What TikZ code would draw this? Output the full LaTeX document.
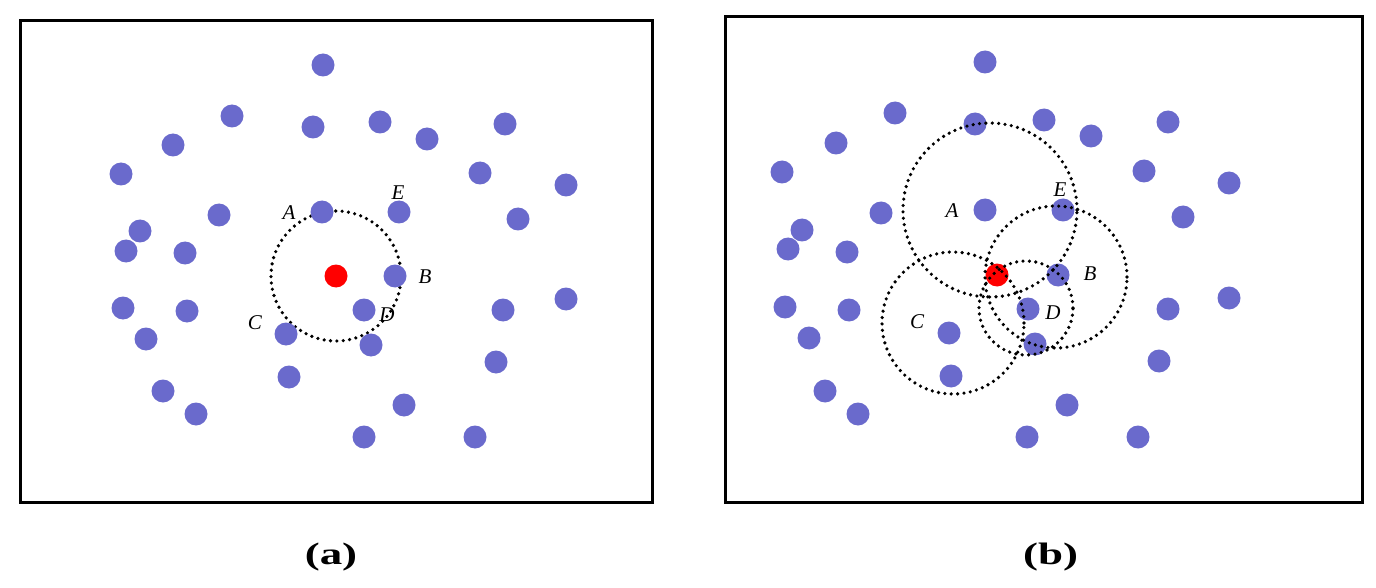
\documentclass[tikz,border=0pt]{standalone}
\usepackage{fontspec}
\setmainfont{Liberation Serif}
\definecolor{dotblue}{RGB}{106,106,204}
\begin{document}
\begin{tikzpicture}[x=1pt,y=-1pt,
  bluedot/.style={circle, fill=dotblue, inner sep=0pt, minimum size=23pt},
  reddot/.style={circle, fill=red, inner sep=0pt, minimum size=23pt},
  rangering/.style={draw=black, line width=3.6pt, dash pattern=on 0pt off 6.4pt, line cap=round},
  framebox/.style={draw=black, line width=3pt},
  lbl/.style={inner sep=0pt, font=\fontsize{21}{25}\selectfont\itshape},
  captext/.style={inner sep=0pt, font=\fontsize{31}{36}\selectfont\bfseries, xscale=1.45}]
\useasboundingbox (0,0) rectangle (1376,588);
% ---------- panel (a) ----------
\draw[framebox] (20,20.5) rectangle (652,502);
\node[reddot] (ra) at (336,276) {};
\draw[rangering] (ra) circle[radius=65pt];
\foreach \px/\py [count=\i] in {323/65,232/116,173/145,121/174,313/127,380/122,427/139,505/124,480/173,566/185,219/215,140/231,126/251,185/253,322/212,399/212,518/219,395/276,123/308,187/311,146/339,364/310,286/334,371/345,503/310,566/299,496/362,289/377,163/391,196/414,404/405,364/437,475/437}
  \node[bluedot] (a\i) at (\px,\py) {};
\node[lbl] (laA) at (289,213) {A};
\node[lbl] (laE) at (398,193) {E};
\node[lbl] (laB) at (425,277) {B};
\node[lbl] (laC) at (255,323) {C};
\node[lbl] (laD) at (387,315) {D};
\node[captext] (capa) at (331,557) {(a)};
% ---------- panel (b) ----------
\draw[framebox] (725.5,17) rectangle (1362,502);
\foreach \px/\py [count=\i] in {985/62,895/113,836/143,782/172,975/124,1044/120,1091/136,1168/122,1144/171,1229/183,881/213,802/230,788/249,847/252,985/210,1063/210,1183/217,1058/275,785/307,849/310,809/338,1028/309,949/333,1035/344,1168/309,1229/298,1159/361,951/376,825/391,858/414,1067/405,1027/437,1138/437}
  \node[bluedot] (b\i) at (\px,\py) {};
\node[reddot] (rb) at (997,275) {};
\coordinate (cA) at (990,210);
\coordinate (cB) at (1056,277);
\coordinate (cC) at (953,323);
\coordinate (cD) at (1026,308);
\draw[rangering] (cA) circle[radius=87pt];
\draw[rangering] (cB) circle[radius=71pt];
\draw[rangering] (cC) circle[radius=71pt];
\draw[rangering] (cD) circle[radius=47pt];
\node[lbl] (lbA) at (952,211) {A};
\node[lbl] (lbE) at (1060,190) {E};
\node[lbl] (lbB) at (1090,274) {B};
\node[lbl] (lbC) at (917,322) {C};
\node[lbl] (lbD) at (1053,313) {D};
\node[captext] (capb) at (1050.5,557) {(b)};
\end{tikzpicture}
\end{document}
